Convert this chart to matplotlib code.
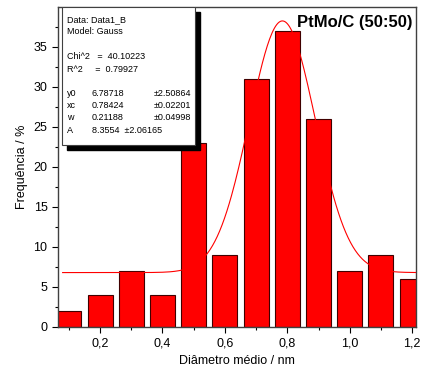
import numpy as np
import matplotlib
matplotlib.use("Agg")
import matplotlib.pyplot as plt
from matplotlib.patches import Rectangle

plt.rcParams['font.family'] = ['Liberation Sans', 'DejaVu Sans']

# histogram data
diam = [0.1, 0.2, 0.3, 0.4, 0.5, 0.6, 0.7, 0.8, 0.9, 1.0, 1.1, 1.2]
freq = [2, 4, 7, 4, 23, 9, 31, 37, 26, 7, 9, 6]

# gauss fit parameters (from the fit box)
y0 = 6.78718
xc = 0.78424
w = 0.21188
A = 8.3554

fig = plt.figure(figsize=(4.26, 3.85), dpi=100)
ax = fig.add_axes([0.136, 0.151, 0.841, 0.831])

ax.bar(diam, freq, width=0.08, color='#ff0000', edgecolor='#400000', linewidth=0.8, zorder=2)

xs = np.linspace(0.08, 1.22, 300)
ys = y0 + A / (w * np.sqrt(np.pi / 2)) * np.exp(-2 * (xs - xc) ** 2 / w ** 2)
ax.plot(xs, ys, color='#ff0000', lw=0.8, zorder=3)

ax.set_xlim(0.065, 1.213)
ax.set_ylim(0, 40)
ax.set_xticks([0.2, 0.4, 0.6, 0.8, 1.0, 1.2])
ax.set_xticklabels(['0,2', '0,4', '0,6', '0,8', '1,0', '1,2'])
ax.set_xticks([0.1, 0.3, 0.5, 0.7, 0.9, 1.1], minor=True)
ax.set_yticks([0, 5, 10, 15, 20, 25, 30, 35])
ax.set_yticks(np.arange(2.5, 40, 5), minor=True)
ax.tick_params(labelsize=9, direction='out', length=4, width=0.8)
ax.tick_params(which='minor', direction='out', length=2, width=0.8)
for s in ax.spines.values():
    s.set_color('#404040')
    s.set_linewidth(1.0)

ax.set_xlabel('Diâmetro médio / nm', fontsize=9)
ax.set_ylabel('Frequência / %', fontsize=9)

ax.text(0.99, 0.975, 'PtMo/C (50:50)', transform=ax.transAxes, ha='right', va='top',
        fontsize=12, fontweight='bold')

# fit info box with shadow
bx, by, bw, bh = 0.011, 0.569, 0.372, 0.431
ax.add_patch(Rectangle((bx + 0.014, by - 0.016), bw, bh, transform=ax.transAxes,
                       facecolor='black', edgecolor='black', zorder=4))
ax.add_patch(Rectangle((bx, by), bw, bh, transform=ax.transAxes,
                       facecolor='white', edgecolor='#404040', lw=0.8, zorder=5))

fs = 6.5
c1, c2, c3 = 0.025, 0.095, 0.268
head = [(0.959, 'Data: Data1_B'), (0.922, 'Model: Gauss'),
        (0.844, 'Chi^2   =  40.10223'), (0.803, 'R^2     =  0.79927')]
for yy, t in head:
    ax.text(c1, yy, t, transform=ax.transAxes, fontsize=fs, va='center', zorder=6)

params = [(0.728, 'y0', '6.78718', '±2.50864'), (0.691, 'xc', '0.78424', '±0.02201'),
          (0.653, 'w', '0.21188', '±0.04998')]
for yy, n, v, e in params:
    ax.text(c1, yy, n, transform=ax.transAxes, fontsize=fs, va='center', zorder=6)
    ax.text(c2, yy, v, transform=ax.transAxes, fontsize=fs, va='center', zorder=6)
    ax.text(c3, yy, e, transform=ax.transAxes, fontsize=fs, va='center', zorder=6)
ax.text(c1, 0.613, 'A', transform=ax.transAxes, fontsize=fs, va='center', zorder=6)
ax.text(c2, 0.613, '8.3554  ±2.06165', transform=ax.transAxes, fontsize=fs, va='center', zorder=6)

fig.savefig('out.png', dpi=100)
